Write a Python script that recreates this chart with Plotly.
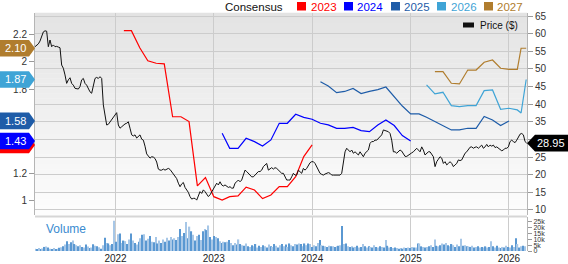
import plotly.graph_objects as go
import pandas as pd

# ---------------- data ----------------
price_start = "2021-03-08"
price_end = "2026-03-08"
price = [
    56.3, 56.6, 57.1, 57.9, 59.6, 60.5, 60.8, 60.7, 56.3, 58.2, 56.3, 56.8, 56.3, 56.4, 56.2, 56.0,
    51.1, 50.2, 48.3, 45.9, 46.9, 47.5, 45.9, 45.4, 44.5, 44.3, 44.3, 45.0, 46.9, 47.3, 45.9, 45.4,
    44.5, 43.5, 43.1, 45.0, 47.3, 47.6, 47.3, 47.8, 47.3, 39.8, 36.5, 34.1, 34.3, 35.0, 35.5, 36.5,
    36.9, 37.6, 34.1, 33.2, 33.6, 34.1, 34.4, 34.6, 35.0, 33.2, 31.3, 31.0, 31.3, 30.4, 31.0, 31.3,
    30.1, 29.8, 28.1, 25.9, 25.3, 24.7, 25.1, 25.0, 24.6, 23.6, 21.6, 21.3, 21.3, 21.6, 21.3, 21.5,
    21.8, 21.5, 20.9, 20.2, 19.6, 18.9, 17.6, 16.6, 17.4, 17.8, 16.4, 15.7, 15.0, 13.8, 13.1, 13.3,
    13.3, 12.8, 14.3, 15.2, 14.7, 15.7, 15.2, 14.3, 13.8, 14.3, 15.2, 16.2, 17.1, 17.6, 17.1, 18.0,
    17.1, 16.8, 17.1, 16.6, 16.4, 16.6, 16.2, 16.2, 17.6, 18.0, 18.5, 18.0, 18.5, 19.9, 21.3, 20.9,
    20.4, 19.9, 19.4, 19.4, 19.9, 20.4, 20.9, 20.9, 21.3, 22.3, 22.8, 23.2, 21.3, 21.6, 22.0, 21.6,
    22.0, 21.8, 21.3, 20.9, 20.4, 20.4, 19.4, 18.5, 18.5, 18.5, 19.4, 20.4, 19.9, 19.9, 21.3, 20.9,
    20.4, 21.8, 21.3, 21.8, 22.8, 23.4, 23.7, 23.7, 23.2, 22.3, 21.3, 20.4, 20.1, 19.9, 20.2, 20.4,
    20.6, 20.4, 19.9, 19.9, 19.9, 19.8, 19.9, 19.9, 20.4, 24.2, 26.5, 27.5, 27.0, 26.5, 27.0, 26.1,
    26.5, 26.1, 25.6, 26.5, 25.6, 25.1, 26.1, 26.5, 27.0, 28.9, 29.4, 29.4, 29.8, 29.8, 30.3, 30.8,
    31.3, 32.7, 32.5, 32.2, 32.2, 31.7, 29.8, 26.5, 26.5, 26.1, 26.5, 27.0, 26.7, 25.9, 25.2, 25.2,
    25.6, 25.9, 26.2, 26.5, 27.0, 27.5, 27.0, 26.5, 27.9, 27.0, 25.6, 26.1, 26.5, 26.5, 25.6, 25.1,
    22.3, 23.7, 24.4, 25.1, 24.7, 23.2, 23.7, 22.8, 23.2, 23.7, 23.2, 22.3, 22.8, 23.2, 24.2, 24.0,
    24.2, 25.1, 26.1, 26.5, 27.0, 27.8, 27.9, 27.5, 27.8, 27.9, 27.5, 28.1, 28.4, 27.5, 27.9, 28.6,
    27.9, 28.4, 28.1, 28.4, 27.7, 27.9, 27.5, 27.0, 26.8, 27.0, 27.5, 27.5, 27.9, 29.4, 29.8, 29.4,
    29.1, 29.8, 30.8, 31.5, 31.7, 31.3, 29.4, 28.95,
]

dates_2023 = ["2022-02-01", "2022-03-01", "2022-04-01", "2022-05-01", "2022-06-01", "2022-07-01",
              "2022-08-01", "2022-09-01", "2022-10-01", "2022-11-01", "2022-12-01", "2023-01-01",
              "2023-02-01", "2023-03-01", "2023-04-01", "2023-05-01", "2023-06-01", "2023-07-01",
              "2023-08-01", "2023-09-01", "2023-10-01", "2023-11-01", "2023-12-01", "2024-01-01"]
eps_2023 = [2.225, 2.225, 2.102, 2.009, 1.991, 1.986, 1.606, 1.606, 1.571, 1.108, 1.168, 1.031,
            1.007, 1.031, 1.036, 1.099, 1.079, 1.017, 1.043, 1.103, 1.103, 1.175, 1.319, 1.403]

dates_2024 = ["2023-02-01", "2023-03-01", "2023-04-01", "2023-05-01", "2023-06-01", "2023-07-01",
              "2023-08-01", "2023-09-01", "2023-10-01", "2023-11-01", "2023-12-01", "2024-01-01",
              "2024-02-01", "2024-03-01", "2024-04-01", "2024-05-01", "2024-06-01", "2024-07-01",
              "2024-08-01", "2024-09-01", "2024-10-01", "2024-11-01", "2024-12-01", "2025-01-01"]
eps_2024 = [1.487, 1.379, 1.379, 1.451, 1.427, 1.396, 1.439, 1.559, 1.559, 1.624, 1.602, 1.588,
            1.559, 1.547, 1.523, 1.523, 1.529, 1.506, 1.499, 1.547, 1.583, 1.543, 1.471, 1.432]

dates_2025 = ["2024-02-01", "2024-03-01", "2024-04-01", "2024-05-01", "2024-06-01", "2024-07-01",
              "2024-08-01", "2024-09-01", "2024-10-01", "2024-11-01", "2024-12-01", "2025-01-01",
              "2025-02-01", "2025-03-01", "2025-04-01", "2025-05-01", "2025-06-01", "2025-07-01",
              "2025-08-01", "2025-09-01", "2025-10-01", "2025-11-01", "2025-12-01", "2026-01-01"]
eps_2025 = [1.858, 1.827, 1.779, 1.788, 1.809, 1.773, 1.789, 1.801, 1.820, 1.752, 1.683, 1.626,
            1.626, 1.602, 1.571, 1.542, 1.511, 1.511, 1.523, 1.523, 1.608, 1.583, 1.543, 1.576]

dates_2026 = ["2025-03-01", "2025-04-01", "2025-05-01", "2025-06-01", "2025-07-01", "2025-08-01",
              "2025-09-01", "2025-10-01", "2025-11-01", "2025-12-01", "2026-01-01", "2026-02-01",
              "2026-02-15", "2026-03-06"]
eps_2026 = [1.835, 1.770, 1.782, 1.686, 1.679, 1.686, 1.686, 1.794, 1.799, 1.660, 1.667, 1.655,
            1.633, 1.874]

dates_2027 = ["2025-04-01", "2025-05-01", "2025-06-01", "2025-07-01", "2025-08-01", "2025-09-01",
              "2025-10-01", "2025-11-01", "2025-12-01", "2026-01-01", "2026-02-01", "2026-02-15",
              "2026-03-06"]
eps_2027 = [1.930, 1.930, 1.847, 1.842, 1.942, 1.942, 1.998, 2.014, 1.955, 1.947, 1.947, 2.099, 2.099]

volume_start = "2021-03-08"
volume_k = [
    2.0, 1.5, 2.5, 1.8, 2.2, 3.5, 3.8, 3.0, 2.0, 1.8, 2.5, 1.6, 2.0, 2.8, 3.2, 4.0,
    5.5, 8.5, 6.0, 7.5, 9.0, 6.0, 5.0, 4.0,
    5.0, 3.5, 3.0, 5.5, 3.8, 2.5, 3.0, 5.8, 4.5, 4.0, 3.2, 2.0, 5.0,
    11.5, 7.0, 6.5, 5.0, 6.0,
    26.0, 8.0, 14.5, 15.0, 7.0,
    9.0, 8.5, 6.0, 10.0, 15.0, 9.0, 7.0, 5.5, 8.0, 11.0, 14.0, 14.5, 9.0,
    10.5, 13.0, 8.0, 7.5, 12.0, 6.5, 9.0, 7.0, 10.0, 8.0, 11.5, 9.0, 12.0, 10.0, 11.0, 9.5,
    12.0, 19.0, 13.0, 15.5, 25.0, 11.0, 21.0, 17.0, 14.0, 9.0, 13.0,
    14.0, 9.5, 17.0, 19.0, 18.0, 22.0, 12.0, 10.0,
    13.0, 12.0, 11.0, 8.5, 7.0, 8.0, 7.5, 8.0, 9.5, 7.0, 5.0,
    7.0, 5.5, 10.0, 6.0, 5.0, 4.5, 6.5, 4.0, 3.5, 5.0, 4.0, 6.0, 3.0,
    4.5, 3.5, 5.0, 4.0, 3.0, 5.5, 4.0, 3.5, 6.0, 4.5, 3.0, 5.0, 6.0, 4.0, 5.5, 3.5, 6.5, 5.0, 4.0, 6.0, 5.5,
    6.5, 6.0, 4.0, 6.5, 5.0, 6.5, 6.0, 3.5, 5.0, 4.0, 7.0, 9.5, 5.0, 4.5, 4.0, 3.5, 4.5, 4.0, 4.0, 3.5, 4.0, 4.5, 5.0,
    21.5, 6.0, 6.5,
    4.0, 3.5, 4.0, 3.0, 3.5, 4.5, 3.0, 3.5, 6.0, 4.0, 3.0, 4.0, 3.5, 3.0, 5.0, 3.5, 3.0, 4.0, 3.5, 3.0, 9.5, 4.5, 3.0, 3.5, 2.5, 3.0, 2.5,
    2.0, 2.5, 2.0, 3.0, 2.5, 3.0, 2.5, 3.5, 3.0, 3.0, 6.5, 6.5, 4.0, 3.5, 3.0, 3.5,
    4.0, 5.0, 3.5, 10.0, 4.5, 4.0, 5.0, 6.5, 5.5, 7.0, 5.0, 4.0, 6.0, 5.0, 3.5, 5.5, 4.0, 10.5, 4.5, 5.0, 4.0,
    4.0, 3.5, 4.5, 3.0, 3.5, 4.0, 3.0, 3.5, 3.0, 4.0, 3.0, 3.5, 8.5, 4.0, 3.0, 4.5, 3.0, 2.5, 3.5, 3.0,
    4.5, 3.5, 3.0, 5.0, 3.5, 11.0, 6.0, 3.0, 4.0, 4.5, 4.0,
]

year_ticks = ["2022-01-01", "2023-01-01", "2024-01-01", "2025-01-01", "2026-01-01"]
year_labels = ["2022", "2023", "2024", "2025", "2026"]
price_ticks = [10, 15, 20, 25, 30, 35, 40, 45, 50, 55, 60, 65]
price_labels = ["10", "15", "20", "25", "", "35", "40", "45", "50", "55", "60", "65"]
eps_ticks = [1, 1.2, 1.8, 2, 2.2]
eps_labels = ["1", "1.2", "1.8", "2", "2.2"]
vol_ticks = [0, 5000, 10000, 15000, 20000, 25000]
vol_labels = ["0", "5k", "10k", "15k", "20k", "25k"]

series = [
    ("2023", dates_2023, eps_2023, "#ff0000"),
    ("2024", dates_2024, eps_2024, "#0000ff"),
    ("2025", dates_2025, eps_2025, "#1e5ca8"),
    ("2026", dates_2026, eps_2026, "#3fa4d6"),
    ("2027", dates_2027, eps_2027, "#b07d2e"),
]

# ---------------- layout geometry ----------------
W, H = 568, 264
ML, MR, MT, MB = 35, 41, 13, 13
PW, PH = W - ML - MR, H - MT - MB
BOTTOM = H - MB
main_dom = [(BOTTOM - 215) / PH, 1.0]
vol_dom = [0.0, (BOTTOM - 217) / PH]
x_range = ["2021-03-08", "2026-03-09"]
price_range = [8.58, 65.86]
eps_range = [0.899, 2.3525]
vol_range = [0, 29300]
FONT = "Liberation Sans, Arial, sans-serif"


def px_x(px):
    return (px - ML) / PW


def px_y(py):
    return (BOTTOM - py) / PH


def eps_to_paper(v):
    return main_dom[0] + (v - eps_range[0]) / (eps_range[1] - eps_range[0]) * (main_dom[1] - main_dom[0])


def price_to_paper(v):
    return main_dom[0] + (v - price_range[0]) / (price_range[1] - price_range[0]) * (main_dom[1] - main_dom[0])


fig = go.Figure()

price_dates = pd.date_range(price_start, price_end, periods=len(price))
for name, d, v, c in series:
    fig.add_trace(go.Scatter(x=pd.to_datetime(d), y=v, mode="lines", name=name,
                             line=dict(color=c, width=1.2), xaxis="x", yaxis="y",
                             hoverinfo="skip"))
fig.add_trace(go.Scatter(x=price_dates, y=price, mode="lines", name="Price ($)",
                         line=dict(color="#111111", width=1), xaxis="x", yaxis="y2"))

vol_dates = pd.date_range(volume_start, periods=len(volume_k), freq="7D")
vol_colors = ["#a7c7e7" if i % 2 == 0 else "#5a98d2" for i in range(len(volume_k))]
fig.add_trace(go.Bar(x=vol_dates, y=[v * 1000 for v in volume_k], marker=dict(color=vol_colors, line=dict(width=0)),
                     xaxis="x2", yaxis="y3", name="Volume"))

shapes = []
# gradient background of the main panel
N = 40
for i in range(N):
    y0 = main_dom[0] + (main_dom[1] - main_dom[0]) * i / N
    y1 = main_dom[0] + (main_dom[1] - main_dom[0]) * (i + 1) / N
    g = int(round(253 - (253 - 227) * (i + 0.5) / N))
    shapes.append(dict(type="rect", xref="paper", yref="paper", x0=0, x1=1, y0=y0, y1=y1 + 0.001,
                       fillcolor=f"rgb({g},{g},{g})", line=dict(width=0), layer="below"))
# separator between panels
shapes.append(dict(type="line", xref="paper", yref="paper", x0=0, x1=1, y0=px_y(216.5), y1=px_y(216.5),
                   line=dict(color="#d6d6d6", width=2), layer="above"))

annotations = []
# left badges (last consensus values)
half = 8.3 / PH
xl, xr = px_x(0), px_x(29)
for name, d, v, c in series:
    yc = eps_to_paper(v[-1])
    path = f"M {xl},{yc - half} L {xr},{yc - half} L 0,{yc} L {xr},{yc + half} L {xl},{yc + half} Z"
    shapes.append(dict(type="path", xref="paper", yref="paper", path=path, fillcolor=c,
                       line=dict(width=0), layer="above"))
for name, d, v, c in series:
    if name == "2023":
        continue
    annotations.append(dict(xref="paper", yref="paper", x=px_x(15), y=eps_to_paper(v[-1]),
                            text=f"{v[-1]:.2f}", showarrow=False, xanchor="center", yanchor="middle",
                            font=dict(color="white", size=11, family=FONT)))

# right price badge
yc = price_to_paper(price[-1])
x_tip, x_r0, x_r1 = 1.0, px_x(535), px_x(568)
shapes.append(dict(type="path", xref="paper", yref="paper",
                   path=f"M {x_tip},{yc} L {x_r0},{yc + half} L {x_r1},{yc + half} L {x_r1},{yc - half} L {x_r0},{yc - half} Z",
                   fillcolor="#000000", line=dict(width=0), layer="above"))
annotations.append(dict(xref="paper", yref="paper", x=px_x(551), y=yc, text=f"{price[-1]:.2f}",
                        showarrow=False, xanchor="center", yanchor="middle",
                        font=dict(color="white", size=11, family=FONT)))

# top legend
annotations.append(dict(xref="paper", yref="paper", x=px_x(224), y=px_y(0), text="Consensus",
                        showarrow=False, xanchor="left", yanchor="top", borderpad=0,
                        font=dict(color="#111111", size=11.5, family=FONT)))
sq_x = [297, 344, 391, 437, 484]
tx_x = [310, 356, 403, 450, 496]
for (name, d, v, c), sx, tx in zip(series, sq_x, tx_x):
    shapes.append(dict(type="rect", xref="paper", yref="paper", x0=px_x(sx), x1=px_x(sx + 9),
                       y0=px_y(10.5), y1=px_y(2), fillcolor=c, line=dict(width=0)))
    annotations.append(dict(xref="paper", yref="paper", x=px_x(tx), y=px_y(0), text=name,
                            showarrow=False, xanchor="left", yanchor="top", borderpad=0,
                            font=dict(color=c, size=11.5, family=FONT)))

# price legend inside plot
shapes.append(dict(type="rect", xref="paper", yref="paper", x0=px_x(463), x1=px_x(474),
                   y0=px_y(27.5), y1=px_y(22.5), fillcolor="#111111", line=dict(width=0)))
annotations.append(dict(xref="paper", yref="paper", x=px_x(478), y=px_y(25.5), text="Price ($)",
                        showarrow=False, xanchor="left", yanchor="middle",
                        font=dict(color="#111111", size=10, family=FONT)))

# volume label
annotations.append(dict(xref="paper", yref="paper", x=px_x(44), y=px_y(229), text="Volume",
                        showarrow=False, xanchor="left", yanchor="middle",
                        font=dict(color="#3a8bd0", size=12, family=FONT)))

grid_c = "#cccccc"
axis_c = "#b5b5b5"
tick_font = dict(size=10, color="#333333", family=FONT)

fig.update_layout(
    width=W, height=H,
    margin=dict(l=ML, r=MR, t=MT, b=MB, autoexpand=False),
    paper_bgcolor="white", plot_bgcolor="rgba(0,0,0,0)",
    showlegend=False, bargap=0.35,
    font=dict(family=FONT),
    shapes=shapes, annotations=annotations,
    xaxis=dict(domain=[0, 1], anchor="y", range=x_range, tickvals=year_ticks, showticklabels=False,
               showgrid=True, gridcolor=grid_c, gridwidth=1, zeroline=False, showline=False, ticks="",
               automargin=False),
    yaxis=dict(domain=main_dom, anchor="x", side="left", range=eps_range, tickvals=eps_ticks,
               ticktext=eps_labels, ticks="outside", ticklen=5, tickcolor="#999999",
               showgrid=False, zeroline=False, showline=True, linecolor=axis_c,
               tickfont=tick_font, automargin=False),
    yaxis2=dict(overlaying="y", anchor="x", side="right", range=price_range, tickvals=price_ticks,
                ticktext=price_labels,
                ticks="outside", ticklen=5, tickcolor="#999999", showgrid=True, gridcolor=grid_c,
                gridwidth=1, zeroline=False, showline=True, linecolor=axis_c, tickfont=tick_font,
                automargin=False),
    xaxis2=dict(domain=[0, 1], anchor="y3", matches="x", range=x_range, tickvals=year_ticks,
                ticktext=year_labels, showgrid=True, gridcolor=grid_c, gridwidth=1, zeroline=False,
                showline=False, ticks="", tickfont=dict(size=10, color="#222222", family=FONT),
                automargin=False),
    yaxis3=dict(domain=vol_dom, anchor="x2", side="right", range=vol_range, tickvals=vol_ticks,
                ticktext=vol_labels, ticks="outside", ticklen=4, tickcolor="#999999",
                showgrid=False, zeroline=False, showline=True, linecolor=axis_c,
                tickfont=dict(size=7, color="#333333", family=FONT), automargin=False),
)

fig.write_html("out.html")
